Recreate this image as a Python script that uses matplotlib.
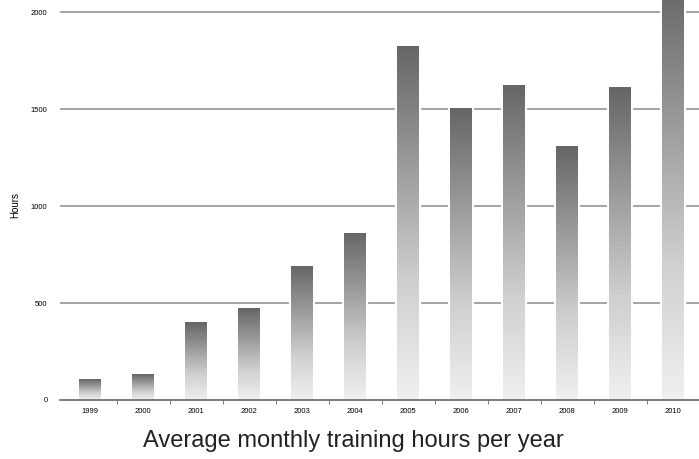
import matplotlib
matplotlib.use("Agg")
import matplotlib.pyplot as plt
from matplotlib.colors import LinearSegmentedColormap
import numpy as np

plt.rcParams['font.family'] = ['Liberation Sans', 'DejaVu Sans']

years = ['1999', '2000', '2001', '2002', '2003', '2004',
         '2005', '2006', '2007', '2008', '2009', '2010']
hours = [108, 134, 402, 474, 691, 861, 1825, 1505, 1624, 1309, 1613, 2150]

fig = plt.figure(figsize=(6.99, 4.59), dpi=100)
ax = fig.add_axes([60 / 699, 1 - 400 / 459, 639 / 699, 400 / 459])

x = np.arange(len(years))

# grid lines behind bars
for v in [500, 1000, 1500, 2000]:
    ax.axhline(v, color="#8c8c8c", lw=1.1, zorder=1)

# white halo around bars
ax.bar(x, hours, width=0.41, facecolor="white", edgecolor="white",
       lw=3, zorder=2)
bars = ax.bar(x, hours, width=0.41, facecolor="none", edgecolor="none",
              zorder=3)

cmap = LinearSegmentedColormap.from_list("g", ["#f0f0f0", "#cfcfcf", "#9a9a9a", "#666666"])
grad = np.linspace(0, 1, 256).reshape(-1, 1)
for b in bars:
    x0, y0 = b.get_x(), b.get_y()
    w, h = b.get_width(), b.get_height()
    im = ax.imshow(grad, extent=[x0, x0 + w, y0, y0 + h], origin="lower",
                   aspect="auto", cmap=cmap, zorder=3)
    im.set_clip_path(b)

ax.set_xlim(-0.57, 11.49)
ax.set_ylim(0, 2062)

for s in ["top", "right", "left"]:
    ax.spines[s].set_visible(False)
ax.spines["bottom"].set_color("#666666")
ax.spines["bottom"].set_linewidth(1.2)
ax.spines["bottom"].set_zorder(4)

ax.set_yticks([0, 500, 1000, 1500, 2000])
ax.set_yticklabels(["0", "500", "1000", "1500", "2000"])
ax.tick_params(axis="y", length=0, labelsize=5.5, pad=9)

ax.set_xticks(x)
ax.set_xticklabels(years)
ax.tick_params(axis="x", length=0, labelsize=5.5, pad=6)
ax.set_xticks(np.arange(len(years) - 1) + 0.5, minor=True)
ax.tick_params(axis="x", which="minor", length=3, color="#666666")

fig.text(15 / 699, 1 - 205 / 459, "Hours", rotation=90, fontsize=7,
         ha="center", va="center")
fig.text(0.505, 1 - 441 / 459, "Average monthly training hours per year",
         fontsize=17, ha="center", va="center", color="#222222")

fig.savefig("out.png", dpi=100)
